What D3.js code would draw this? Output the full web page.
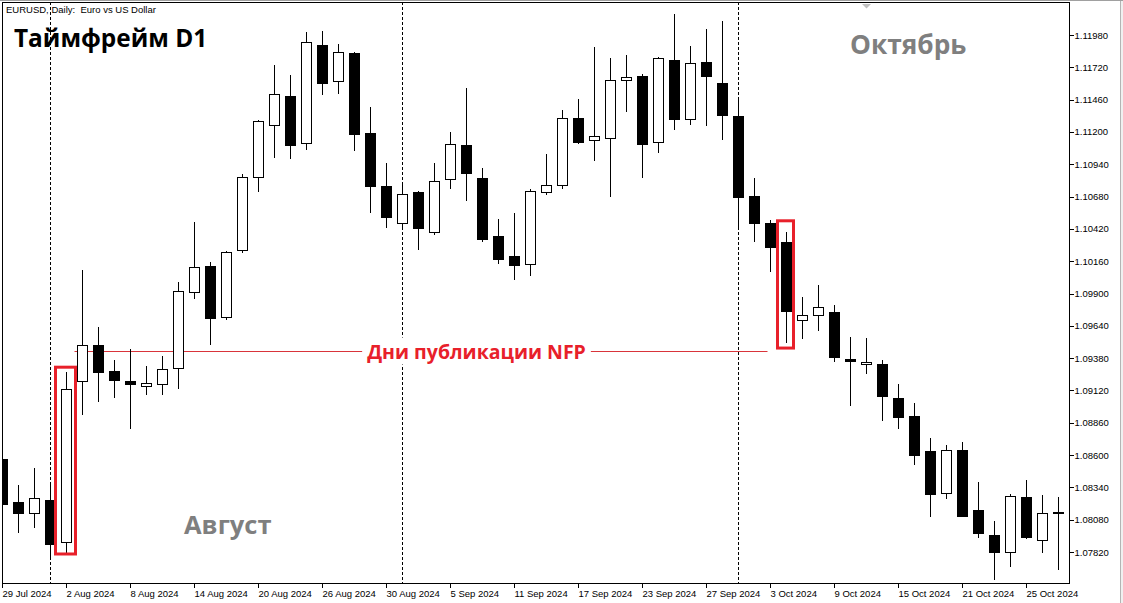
<!DOCTYPE html>
<html>
<head>
<meta charset="utf-8">
<script src="https://cdn.jsdelivr.net/npm/d3@7"></script>
<style>
  html, body { margin: 0; padding: 0; background: #fff; }
  svg { display: block; }
  .axis-text { font-family: "Liberation Sans", Arial, sans-serif; font-size: 9.5px; fill: #000; }
</style>
</head>
<body>
<svg width="1123" height="603"></svg>
<script>
// EURUSD daily bars, 29 Jul 2024 .. 29 Oct 2024
const dates = [
  '2024-07-29','2024-07-30','2024-07-31',
  '2024-08-01','2024-08-02','2024-08-05','2024-08-06','2024-08-07','2024-08-08','2024-08-09',
  '2024-08-12','2024-08-13','2024-08-14','2024-08-15','2024-08-16','2024-08-19','2024-08-20',
  '2024-08-21','2024-08-22','2024-08-23','2024-08-26','2024-08-27','2024-08-28','2024-08-29','2024-08-30',
  '2024-09-02','2024-09-03','2024-09-04','2024-09-05','2024-09-06','2024-09-09','2024-09-10',
  '2024-09-11','2024-09-12','2024-09-13','2024-09-16','2024-09-17','2024-09-18','2024-09-19',
  '2024-09-20','2024-09-23','2024-09-24','2024-09-25','2024-09-26','2024-09-27','2024-09-30',
  '2024-10-01','2024-10-02','2024-10-03','2024-10-04','2024-10-07','2024-10-08','2024-10-09',
  '2024-10-10','2024-10-11','2024-10-14','2024-10-15','2024-10-16','2024-10-17','2024-10-18',
  '2024-10-21','2024-10-22','2024-10-23','2024-10-24','2024-10-25','2024-10-28','2024-10-29'
];

const open = [
  1.08566,1.08217,1.08128,1.08235,1.07899,1.09189,1.09482,1.09275,1.09195,1.09152,
  1.09168,1.09297,1.09910,1.10114,1.09708,1.10248,1.10837,1.11248,1.11482,1.11103,
  1.11895,1.11603,1.11831,1.11186,1.10759,1.10466,1.10710,1.10393,1.10821,1.11089,
  1.10829,1.10356,1.10194,1.10135,1.10716,1.10772,1.11307,1.11135,1.11151,1.11611,
  1.11645,1.11119,1.11774,1.11304,1.11758,1.11589,1.11323,1.10678,1.10460,1.10310,
  1.09681,1.09721,1.09751,1.09372,1.09326,1.09326,1.09058,1.08907,1.08630,1.08289,
  1.08638,1.08157,1.07953,1.07818,1.08259,1.07910,1.08138
];
const high = [
  1.08598,1.08356,1.08493,1.08372,1.09265,1.10090,1.09630,1.09364,1.09453,1.09316,
  1.09396,1.09993,1.10476,1.10154,1.10239,1.10863,1.11299,1.11742,1.11662,1.12008,
  1.12016,1.11911,1.11847,1.11404,1.10952,1.10791,1.10726,1.10952,1.11202,1.11557,
  1.10912,1.10501,1.10549,1.10740,1.11025,1.11377,1.11468,1.11887,1.11791,1.11823,
  1.11670,1.11799,1.12145,1.11895,1.12032,1.12089,1.11468,1.10831,1.10493,1.10396,
  1.09872,1.09969,1.09807,1.09552,1.09544,1.09364,1.09173,1.09020,1.08735,1.08681,
  1.08705,1.08383,1.08066,1.08284,1.08396,1.08276,1.08259
];
const low = [
  1.08171,1.07972,1.08012,1.07768,1.07806,1.08921,1.09028,1.09058,1.08808,1.09082,
  1.09084,1.09133,1.09858,1.09487,1.09689,1.10224,1.10713,1.10987,1.10979,1.11055,
  1.11495,1.11503,1.11043,1.10551,1.10431,1.10428,1.10251,1.10374,1.10737,1.10646,
  1.10318,1.10140,1.10011,1.10044,1.10692,1.10737,1.11105,1.10963,1.10680,1.11358,
  1.10826,1.11027,1.11213,1.11253,1.11245,1.11132,1.10431,1.10318,1.10076,1.09503,
  1.09536,1.09598,1.09348,1.08993,1.09251,1.08875,1.08810,1.08517,1.08098,1.08246,
  1.08098,1.07931,1.07598,1.07698,1.07923,1.07808,1.07679
];
const close = [
  1.08203,1.08128,1.08249,1.07878,1.09128,1.09482,1.09262,1.09197,1.09165,1.09179,
  1.09289,1.09920,1.10111,1.09700,1.10232,1.10837,1.11280,1.11498,1.11092,1.11917,
  1.11591,1.11837,1.11180,1.10761,1.10511,1.10700,1.10422,1.10805,1.11095,1.10866,
  1.10334,1.10173,1.10124,1.10718,1.10772,1.11312,1.11116,1.11167,1.11611,1.11635,
  1.11100,1.11788,1.11301,1.11750,1.11648,1.11333,1.10672,1.10463,1.10269,1.09753,
  1.09727,1.09791,1.09382,1.09350,1.09348,1.09068,1.08899,1.08600,1.08286,1.08636,
  1.08109,1.07967,1.07818,1.08267,1.07939,1.08130,1.08128
];

const priceTicks = [1.11980,1.11720,1.11460,1.11200,1.10940,1.10680,1.10420,1.10160,
  1.09900,1.09640,1.09380,1.09120,1.08860,1.08600,1.08340,1.08080,1.07820];
const dateTickLabels = ['29 Jul 2024','2 Aug 2024','8 Aug 2024','14 Aug 2024','20 Aug 2024',
  '26 Aug 2024','30 Aug 2024','5 Sep 2024','11 Sep 2024','17 Sep 2024','23 Sep 2024',
  '27 Sep 2024','3 Oct 2024','9 Oct 2024','15 Oct 2024','21 Oct 2024','25 Oct 2024'];

// NFP release days, the boxes drawn round them and the marked level
const nfpDays = ['2024-08-02','2024-10-04'];
const nfpBoxTop = [1.09307, 1.10485];
const nfpBoxBottom = [1.07804, 1.09461];
const nfpLevel = 1.09436;

const svg = d3.select('svg');
const W = 1123, H = 603;
const plot = {left: 2, top: 2, right: 1069, bottom: 584};

const bars = dates.map((d, i) => ({date: d, o: open[i], h: high[i], l: low[i], c: close[i]}));

// one bar every 16 px, wick on the bar's pixel column
const x = d3.scalePoint()
  .domain(dates)
  .range([2.5, 2.5 + 16 * (dates.length - 1)]);

const y = d3.scaleLinear()
  .domain([priceTicks[priceTicks.length - 1], priceTicks[0]])
  .range([552, 35]);

// window chrome
svg.append('rect').attr('width', W).attr('height', H).attr('fill', '#fff');
svg.append('line').attr('x1', 0).attr('x2', W).attr('y1', 0.5).attr('y2', 0.5)
  .attr('stroke', '#a0a0a0');
svg.append('rect').attr('x', 1120).attr('y', 1).attr('width', 3).attr('height', H)
  .attr('fill', '#f0f0f0');
svg.append('line').attr('x1', 1120.5).attr('x2', 1120.5).attr('y1', 1).attr('y2', H)
  .attr('stroke', '#b4b4b4');

svg.append('clipPath').attr('id', 'plotclip')
  .append('rect')
    .attr('x', plot.left).attr('y', plot.top)
    .attr('width', plot.right - plot.left).attr('height', plot.bottom - plot.top);

const g = svg.append('g').attr('clip-path', 'url(#plotclip)');

// month separators on the first bar of each month
const sepDates = dates.filter((d, i) => i > 0 && d.slice(5, 7) !== dates[i - 1].slice(5, 7));
g.selectAll('.sep')
  .data(sepDates)
  .enter().append('line')
    .attr('x1', d => x(d)).attr('x2', d => x(d))
    .attr('y1', plot.top).attr('y2', plot.bottom)
    .attr('stroke', '#000')
    .attr('stroke-dasharray', '3,2');

// NFP level line with its label
const yLevel = Math.round(y(nfpLevel)) + 0.5;
g.append('line')
  .attr('x1', x(nfpDays[0]) + 8).attr('x2', x(nfpDays[1]) - 19)
  .attr('y1', yLevel).attr('y2', yLevel)
  .attr('stroke', '#d9343a').attr('stroke-width', 1);

// candles
const candle = g.selectAll('.candle')
  .data(bars)
  .enter().append('g')
    .attr('class', 'candle')
    .attr('shape-rendering', 'crispEdges');

candle.append('line')
  .attr('x1', d => x(d.date)).attr('x2', d => x(d.date))
  .attr('y1', d => y(d.h)).attr('y2', d => y(d.l))
  .attr('stroke', '#000');

candle.append('rect')
  .attr('x', d => x(d.date) - 5)
  .attr('width', 10)
  .attr('y', d => y(Math.max(d.o, d.c)))
  .attr('height', d => Math.max(0.5, Math.abs(y(d.o) - y(d.c))))
  .attr('fill', d => d.c >= d.o ? '#fff' : '#000')
  .attr('stroke', '#000');

// NFP boxes
const boxHalf = [10, 8];
g.selectAll('.nfpbox')
  .data(nfpDays)
  .enter().append('rect')
    .attr('x', (d, i) => x(d) - 1 - boxHalf[i])
    .attr('width', (d, i) => boxHalf[i] * 2)
    .attr('y', (d, i) => y(nfpBoxTop[i]))
    .attr('height', (d, i) => y(nfpBoxBottom[i]) - y(nfpBoxTop[i]))
    .attr('fill', 'none')
    .attr('stroke', '#e8202a')
    .attr('stroke-width', 3);

// NFP label with a white backing that breaks the line
const nfpLabel = g.append('g').attr('transform', `translate(476.5,${yLevel})`);
const nfpBg = nfpLabel.append('rect').attr('fill', '#fff');
const nfpText = nfpLabel.append('text')
  .attr('text-anchor', 'middle')
  .attr('dy', '0.36em')
  .style('font-family', '"Open Sans", "Noto Sans", sans-serif')
  .style('font-weight', 700)
  .style('font-size', '19.5px')
  .attr('fill', '#e8202a')
  .text('Дни публикации NFP');
const bb = nfpText.node().getBBox();
nfpBg.attr('x', bb.x - 5).attr('y', bb.y).attr('width', bb.width + 10).attr('height', bb.height);

// captions
g.append('text')
  .attr('x', 14).attr('y', 47)
  .style('font-family', '"Open Sans", "Noto Sans", sans-serif')
  .style('font-weight', 700).style('font-size', '24.4px')
  .attr('fill', '#000')
  .text('Таймфрейм D1');

g.append('text')
  .attr('x', 184).attr('y', 534)
  .style('font-family', '"Open Sans", "Noto Sans", sans-serif')
  .style('font-weight', 700).style('font-size', '25.5px')
  .attr('fill', '#7f7f7f')
  .text('Август');

g.append('text')
  .attr('x', 850).attr('y', 54)
  .style('font-family', '"Open Sans", "Noto Sans", sans-serif')
  .style('font-weight', 700).style('font-size', '26.3px')
  .attr('fill', '#7f7f7f')
  .text('Октябрь');

// header
svg.append('text')
  .attr('class', 'axis-text')
  .attr('x', 6).attr('y', 13)
  .attr('xml:space', 'preserve')
  .style('white-space', 'pre')
  .text('EURUSD, Daily:  Euro vs US Dollar');

// shift marker
svg.append('path')
  .attr('d', 'M862,4 L871,4 L866.5,8.5 Z')
  .attr('fill', '#c0c0c0');

// frame
svg.append('rect')
  .attr('x', plot.left + 0.5).attr('y', plot.top + 0.5)
  .attr('width', plot.right - plot.left).attr('height', plot.bottom - plot.top - 1)
  .attr('fill', 'none').attr('stroke', '#000')
  .attr('shape-rendering', 'crispEdges');

// price axis
const yAxis = svg.append('g')
  .attr('transform', `translate(${plot.right + 0.5},0)`)
  .call(d3.axisRight(y).tickValues(priceTicks).tickSize(4).tickPadding(1)
    .tickFormat(d3.format('.5f')));
yAxis.select('.domain').remove();
yAxis.selectAll('line').attr('shape-rendering', 'crispEdges');
yAxis.selectAll('text').attr('class', 'axis-text').attr('font-family', null).attr('font-size', null);

// date axis: a label every fourth bar
const tickDates = dates.filter((d, i) => i % 4 === 0).slice(0, dateTickLabels.length);
const xAxis = svg.append('g')
  .attr('transform', `translate(-0.5,${plot.bottom - 0.5})`)
  .call(d3.axisBottom(x).tickValues(tickDates).tickSize(4)
    .tickFormat((d, i) => dateTickLabels[i]));
xAxis.select('.domain').remove();
xAxis.selectAll('line').attr('shape-rendering', 'crispEdges');
xAxis.selectAll('text')
  .attr('class', 'axis-text').attr('font-family', null).attr('font-size', null)
  .attr('text-anchor', 'start')
  .attr('x', 0).attr('y', 7).attr('dy', '0.71em');
</script>
</body>
</html>
